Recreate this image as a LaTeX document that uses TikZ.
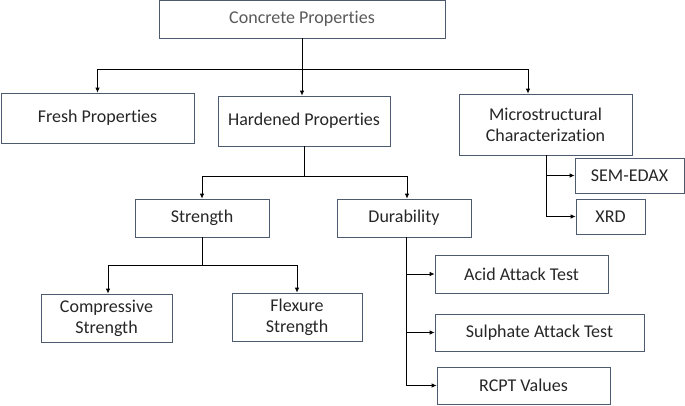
\documentclass[tikz,border=0pt]{standalone}
\usepackage{fontspec}
\setmainfont{Carlito}[Ligatures=NoCommon]
\usepackage{tikz}
\usetikzlibrary{shapes,arrows.meta}
\definecolor{boxline}{HTML}{4E5B6E}
\definecolor{txt}{HTML}{262626}

\begin{document}
\begin{tikzpicture}[x=1pt, y=-1pt,
  every node/.style = {shape=rectangle, draw=boxline, line width=0.8pt,
    align=center, inner sep=0pt, font=\fontsize{18}{21}\selectfont, text=txt},
  arr/.style = {draw=black, line width=0.8pt, -{Latex[length=5pt,width=4.5pt]}},
  ln/.style = {draw=black, line width=0.8pt}]
  \useasboundingbox (0,0) rectangle (685,405);

  % top level
  \node[minimum width=286, minimum height=38, text=black!65] (cp) at (302,19) {Concrete Properties};
  \node[minimum width=193, minimum height=50] (fresh) at (97.5,118) {Fresh Properties};
  \node[minimum width=172, minimum height=50] (hard) at (304,121) {Hardened Properties};
  \node[minimum width=173, minimum height=61] (micro) at (545.5,124.5) {Microstructural\\Characterization};

  % micro
  \node[minimum width=109, minimum height=35] (sem) at (629.5,175.5) {SEM-EDAX};
  \node[minimum width=69, minimum height=35] (xrd) at (610.5,216.5) {XRD};

  % hardened
  \node[minimum width=134, minimum height=38] (str) at (202,218) {Strength};
  \node[minimum width=134, minimum height=38] (dur) at (404,218) {Durability};
  \node[minimum width=131, minimum height=48] (comp) at (106.5,318) {Compressive\\Strength};
  \node[minimum width=130, minimum height=48] (flex) at (297,317) {Flexure\\Strength};

  % durability
  \node[minimum width=173, minimum height=38] (acid) at (521.5,274) {Acid Attack Test};
  \node[minimum width=209, minimum height=37] (sul) at (539.5,332.5) {Sulphate Attack Test};
  \node[minimum width=173, minimum height=37] (rcpt) at (523.5,385.5) {RCPT Values};

  \coordinate (bus1) at (0,69);
  \coordinate (bus2) at (0,176);
  \coordinate (bus3) at (0,265);
  \coordinate (durtrunk) at (406,0);
  \coordinate (mictrunk) at (546,0);

  \draw[arr] (cp.south) -- (cp.south |- hard.north);
  \draw[arr] (cp.south |- bus1) -| (fresh.north);
  \draw[arr] (cp.south |- bus1) -| ([xshift=-17.5pt]micro.north);

  \draw[ln] (hard.south) -- (hard.south |- bus2);
  \draw[arr] (hard.south |- bus2) -| (str.north);
  \draw[arr] (hard.south |- bus2) -| ([xshift=3pt]dur.north);

  \draw[ln] (str.south) -- (str.south |- bus3);
  \draw[arr] (str.south |- bus3) -| ([xshift=1.5pt]comp.north);
  \draw[arr] (str.south |- bus3) -| (flex.north);

  \draw[arr] (mictrunk |- micro.south) |- (xrd.west);
  \draw[arr] (mictrunk |- sem.west) -- (sem.west);

  \draw[arr] (durtrunk |- dur.south) |- (rcpt.west);
  \draw[arr] (durtrunk |- acid.west) -- (acid.west);
  \draw[arr] (durtrunk |- sul.west) -- (sul.west);
\end{tikzpicture}
\end{document}
